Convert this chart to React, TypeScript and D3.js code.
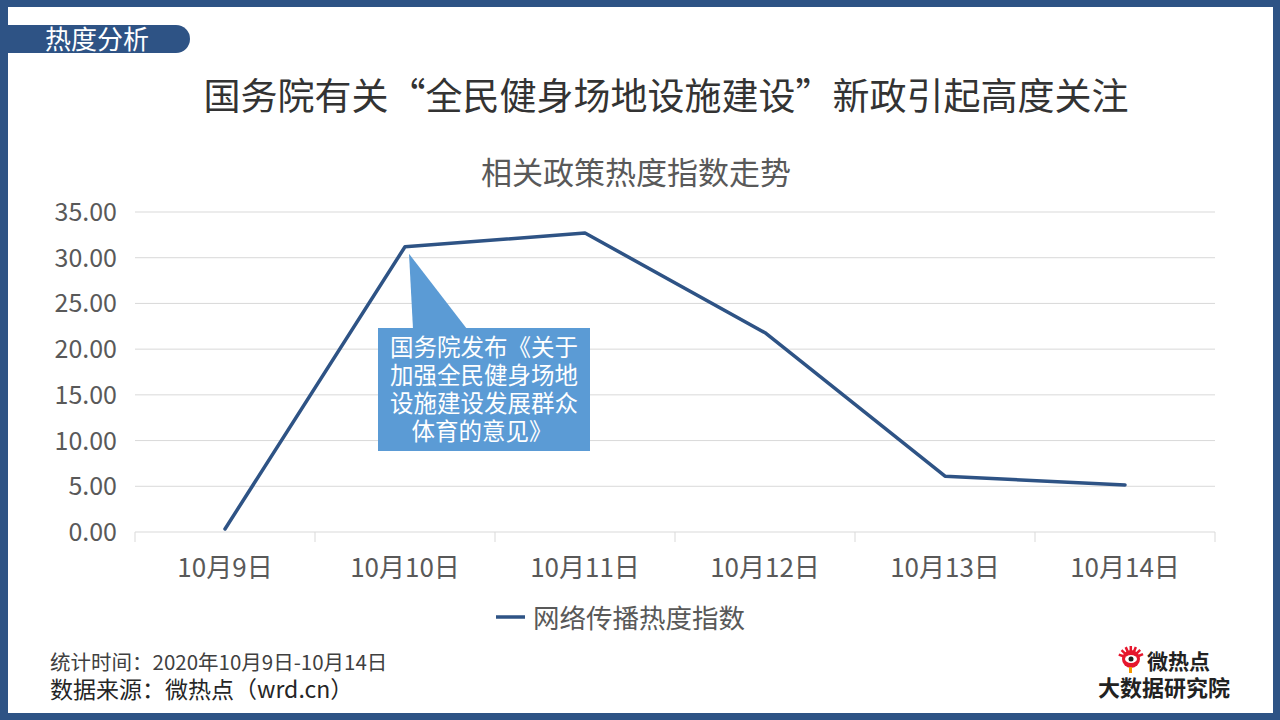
import React from "react";
import * as d3 from "d3";

const categories = ["10月9日", "10月10日", "10月11日", "10月12日", "10月13日", "10月14日"];
const values = [0.33, 31.2, 32.7, 21.8, 6.1, 5.15];
const yTicks = [0, 5, 10, 15, 20, 25, 30, 35];
const seriesName = "网络传播热度指数";
const calloutLines = ["国务院发布《关于", "加强全民健身场地", "设施建设发展群众", "体育的意见》"];

const FONT = "'Noto Sans CJK SC', 'Noto Sans', sans-serif";
const DARK = "#2E5385";

export default function App() {
  const W = 1280, H = 720;
  const x = d3.scaleBand<string>().domain(categories).range([135, 1215]).padding(0);
  const y = d3.scaleLinear().domain([0, 35]).range([532, 212]);
  const line = d3.line<number>()
    .x((_, i) => (x(categories[i]) as number) + x.bandwidth() / 2)
    .y((d) => y(d));
  const bounds = categories.map((c) => x(c) as number).concat([x.range()[1]]);

  const tipX = (x(categories[1]) as number) + x.bandwidth() / 2 + 4;
  const tipY = y(values[1]) + 7;

  return (
    <svg width={W} height={H} style={{ position: "absolute", left: 0, top: 0 }} fontFamily={FONT}>
      <rect x={0} y={0} width={W} height={H} fill={DARK} />
      <rect x={8} y={7} width={1265} height={706} fill="#ffffff" />
      {/* badge */}
      <path d="M8,25 H176 A14,14 0 0 1 176,53 H8 Z" fill={DARK} />
      <text x={45} y={49} fontSize={26} fill="#ffffff">热度分析</text>
      {/* title */}
      <text x={666} y={110} fontSize={37} fill="#333333" textAnchor="middle">
        国务院有关“全民健身场地设施建设”新政引起高度关注
      </text>
      <text x={636} y={184} fontSize={31} fill="#595959" textAnchor="middle">相关政策热度指数走势</text>
      {/* grid */}
      {yTicks.map((t) => (
        <g key={t}>
          {t > 0 && <line x1={135} x2={1215} y1={y(t)} y2={y(t)} stroke="#d9d9d9" strokeWidth={1} />}
          <text x={117} y={y(t) + 9} fontSize={25} fill="#595959" textAnchor="end">{t.toFixed(2)}</text>
        </g>
      ))}
      <line x1={135} x2={1215} y1={y(0)} y2={y(0)} stroke="#d9d9d9" strokeWidth={1} />
      {bounds.map((b, i) => (
        <line key={i} x1={b} x2={b} y1={y(0)} y2={y(0) + 10} stroke="#d9d9d9" strokeWidth={1} />
      ))}
      {categories.map((c) => (
        <text key={c} x={(x(c) as number) + x.bandwidth() / 2} y={577} fontSize={26} fill="#595959" textAnchor="middle">{c}</text>
      ))}
      <path d={line(values) || ""} fill="none" stroke={DARK} strokeWidth={3.5} strokeLinejoin="round" strokeLinecap="round" />
      {/* callout */}
      <path d={`M${tipX},${tipY} L467,329 L413,329 Z`} fill="#5B9BD5" />
      <rect x={378} y={328} width={212} height={123} fill="#5B9BD5" />
      <text fontSize={23.5} fill="#ffffff" textAnchor="middle">
        {calloutLines.map((l, i) => (
          <tspan key={i} x={i === 3 ? 482 : 484} y={356 + i * 28}>{l}</tspan>
        ))}
      </text>
      {/* legend */}
      <line x1={496} x2={525} y1={617} y2={617} stroke={DARK} strokeWidth={3.5} />
      <text x={533} y={628} fontSize={26.5} fill="#595959">{seriesName}</text>
      {/* footer */}
      <text x={50} y={670} fontSize={20.5} fill="#404040">统计时间：2020年10月9日-10月14日</text>
      <text x={50} y={698} fontSize={23} fill="#262626">数据来源：微热点（wrd.cn）</text>
      {/* logo */}
      <g>
        <circle cx={1131} cy={659} r={9} fill="#e6162d" />
        {d3.range(7).map((i) => {
          const a = (-160 + i * 23) * Math.PI / 180;
          return <line key={i} x1={1131 + Math.cos(a) * 8} y1={659 + Math.sin(a) * 8} x2={1131 + Math.cos(a) * 13} y2={659 + Math.sin(a) * 13} stroke="#e6162d" strokeWidth={2.5} />;
        })}
        <ellipse cx={1131} cy={659} rx={6} ry={4} fill="#ffffff" />
        <circle cx={1131} cy={659} r={2.5} fill="#222" />
        <rect x={1129} y={667} width={3} height={6} fill="#f39800" />
        <text x={1147} y={669} fontSize={21} fontWeight="bold" fill="#222">微热点</text>
        <text x={1098} y={696} fontSize={22} fontWeight="bold" fill="#222">大数据研究院</text>
      </g>
    </svg>
  );
}
